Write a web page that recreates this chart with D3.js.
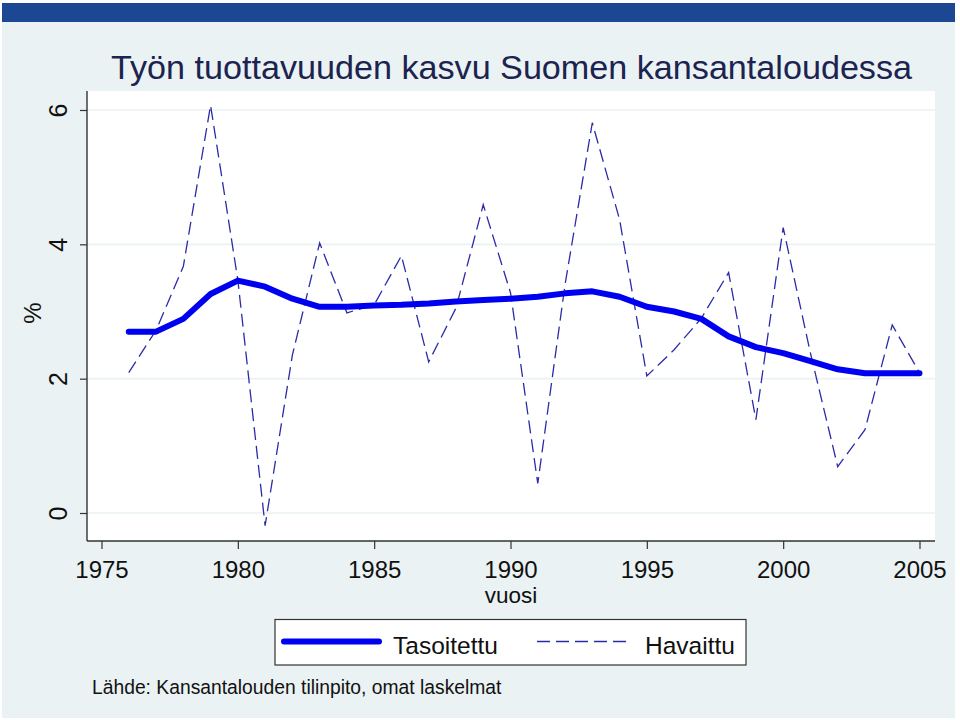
<!DOCTYPE html>
<html>
<head>
<meta charset="utf-8">
<script src="https://cdn.jsdelivr.net/npm/d3@7"></script>
<style>
  html, body { margin: 0; padding: 0; background: #ffffff; }
  svg { display: block; font-family: "Liberation Sans", Arial, sans-serif; }
</style>
</head>
<body>
<svg id="chart" width="960" height="720"></svg>
<script>
// ---- data ----
const years = [1976,1977,1978,1979,1980,1981,1982,1983,1984,1985,1986,1987,1988,1989,1990,
               1991,1992,1993,1994,1995,1996,1997,1998,1999,2000,2001,2002,2003,2004,2005];
const tasoitettu = [2.70,2.70,2.89,3.26,3.46,3.37,3.19,3.07,3.07,3.09,3.10,3.12,3.15,3.17,3.19,
                    3.22,3.27,3.30,3.22,3.07,3.00,2.89,2.63,2.47,2.38,2.26,2.14,2.08,2.08,2.08];
const havaittu = [2.09,2.72,3.67,6.07,3.47,-0.19,2.35,4.02,2.98,3.10,3.83,2.25,3.05,4.59,3.28,
                  0.44,3.40,5.81,4.37,2.04,2.43,2.90,3.58,1.39,4.25,2.38,0.69,1.24,2.80,2.09];
const yTicks = [0,2,4,6];
const xTicks = [1975,1980,1985,1990,1995,2000,2005];
const titleText = "Työn tuottavuuden kasvu Suomen kansantaloudessa";
const yTitle = "%";
const xTitle = "vuosi";
const seriesNames = ["Tasoitettu","Havaittu"];
const noteText = "Lähde: Kansantalouden tilinpito, omat laskelmat";

// ---- layout ----
const svg = d3.select("#chart");
const plot = {left: 87, right: 935, top: 91, bottom: 541};
const x = d3.scaleLinear().domain([1975, 2005]).range([101.5, 919.5]);
const y = d3.scaleLinear().domain([0, 6]).range([513, 110]);

// backgrounds
svg.append("rect").attr("x",2).attr("y",3).attr("width",953).attr("height",715).attr("fill","#eaf2f3");
svg.append("rect").attr("x",2).attr("y",3).attr("width",953).attr("height",19).attr("fill","#1b4793");
svg.append("rect").attr("x",plot.left).attr("y",plot.top)
   .attr("width",plot.right-plot.left).attr("height",plot.bottom-plot.top).attr("fill","#ffffff");

// title
svg.append("text").attr("x",111).attr("y",79)
   .attr("font-size",32.5).attr("fill","#1c2350")
   .attr("textLength",801).attr("lengthAdjust","spacingAndGlyphs")
   .text(titleText);

// gridlines
svg.append("g").selectAll("line").data(yTicks).join("line")
   .attr("x1",plot.left).attr("x2",plot.right)
   .attr("y1",d=>y(d)).attr("y2",d=>y(d))
   .attr("stroke","#eaf2f3").attr("stroke-width",1.6);

// y axis
const yAxis = svg.append("g").attr("transform",`translate(${plot.left},0)`)
   .call(d3.axisLeft(y).tickValues(yTicks).tickSize(7).tickSizeOuter(0).tickFormat(d3.format("d")));
yAxis.select(".domain").attr("d",`M0,${plot.top}V${plot.bottom}`).attr("stroke","#333").attr("stroke-width",1.4);
yAxis.selectAll(".tick line").attr("stroke","#333").attr("stroke-width",1.2);
yAxis.selectAll(".tick text")
   .attr("transform","rotate(-90)").attr("x",0).attr("y",-20).attr("dy",0)
   .attr("text-anchor","middle").attr("font-size",25).attr("fill","#111")
   .attr("font-family","Liberation Sans, Arial, sans-serif");

// x axis
const xAxis = svg.append("g").attr("transform",`translate(0,${plot.bottom})`)
   .call(d3.axisBottom(x).tickValues(xTicks).tickSize(8).tickSizeOuter(0).tickFormat(d3.format("d")));
xAxis.select(".domain").attr("d",`M${plot.left},0H${plot.right}`).attr("stroke","#333").attr("stroke-width",1.4);
xAxis.selectAll(".tick line").attr("stroke","#333").attr("stroke-width",1.2);
xAxis.selectAll(".tick text")
   .attr("y",37).attr("dy",0).attr("font-size",24).attr("fill","#111")
   .attr("font-family","Liberation Sans, Arial, sans-serif");

// axis titles
svg.append("text").attr("transform","translate(41,313) rotate(-90)")
   .attr("text-anchor","middle").attr("font-size",24).attr("fill","#111").text(yTitle);
svg.append("text").attr("x",511).attr("y",602.5)
   .attr("text-anchor","middle").attr("font-size",22.5).attr("fill","#111").text(xTitle);

// lines
const rows = years.map((yr,i)=>({yr, t:tasoitettu[i], h:havaittu[i]}));
const lineH = d3.line().x(d=>x(d.yr)).y(d=>y(d.h));
const lineT = d3.line().x(d=>x(d.yr)).y(d=>y(d.t));
const clr = {t:"#0000f0", h:"#2b2ba8"};
svg.append("path").datum(rows).attr("d",lineH).attr("fill","none")
   .attr("stroke",clr.h).attr("stroke-width",1.3).attr("stroke-dasharray","13,6");
svg.append("path").datum(rows).attr("d",lineT).attr("fill","none")
   .attr("stroke",clr.t).attr("stroke-width",6).attr("stroke-linejoin","round").attr("stroke-linecap","round");

// legend
const lg = svg.append("g");
lg.append("rect").attr("x",275).attr("y",619.5).attr("width",471).attr("height",45.5)
  .attr("fill","#ffffff").attr("stroke","#333").attr("stroke-width",1.2);
lg.append("line").attr("x1",284).attr("x2",379).attr("y1",641.5).attr("y2",641.5)
  .attr("stroke",clr.t).attr("stroke-width",6).attr("stroke-linecap","round");
lg.append("text").attr("x",393).attr("y",654).attr("font-size",24.5).attr("fill","#111").text(seriesNames[0]);
lg.append("line").attr("x1",537).attr("x2",630).attr("y1",641.5).attr("y2",641.5)
  .attr("stroke",clr.h).attr("stroke-width",1.3).attr("stroke-dasharray","13,6");
lg.append("text").attr("x",645).attr("y",654).attr("font-size",24.5).attr("fill","#111").text(seriesNames[1]);

// note
svg.append("text").attr("x",92).attr("y",694).attr("font-size",19.3).attr("fill","#111").text(noteText);
</script>
</body>
</html>
